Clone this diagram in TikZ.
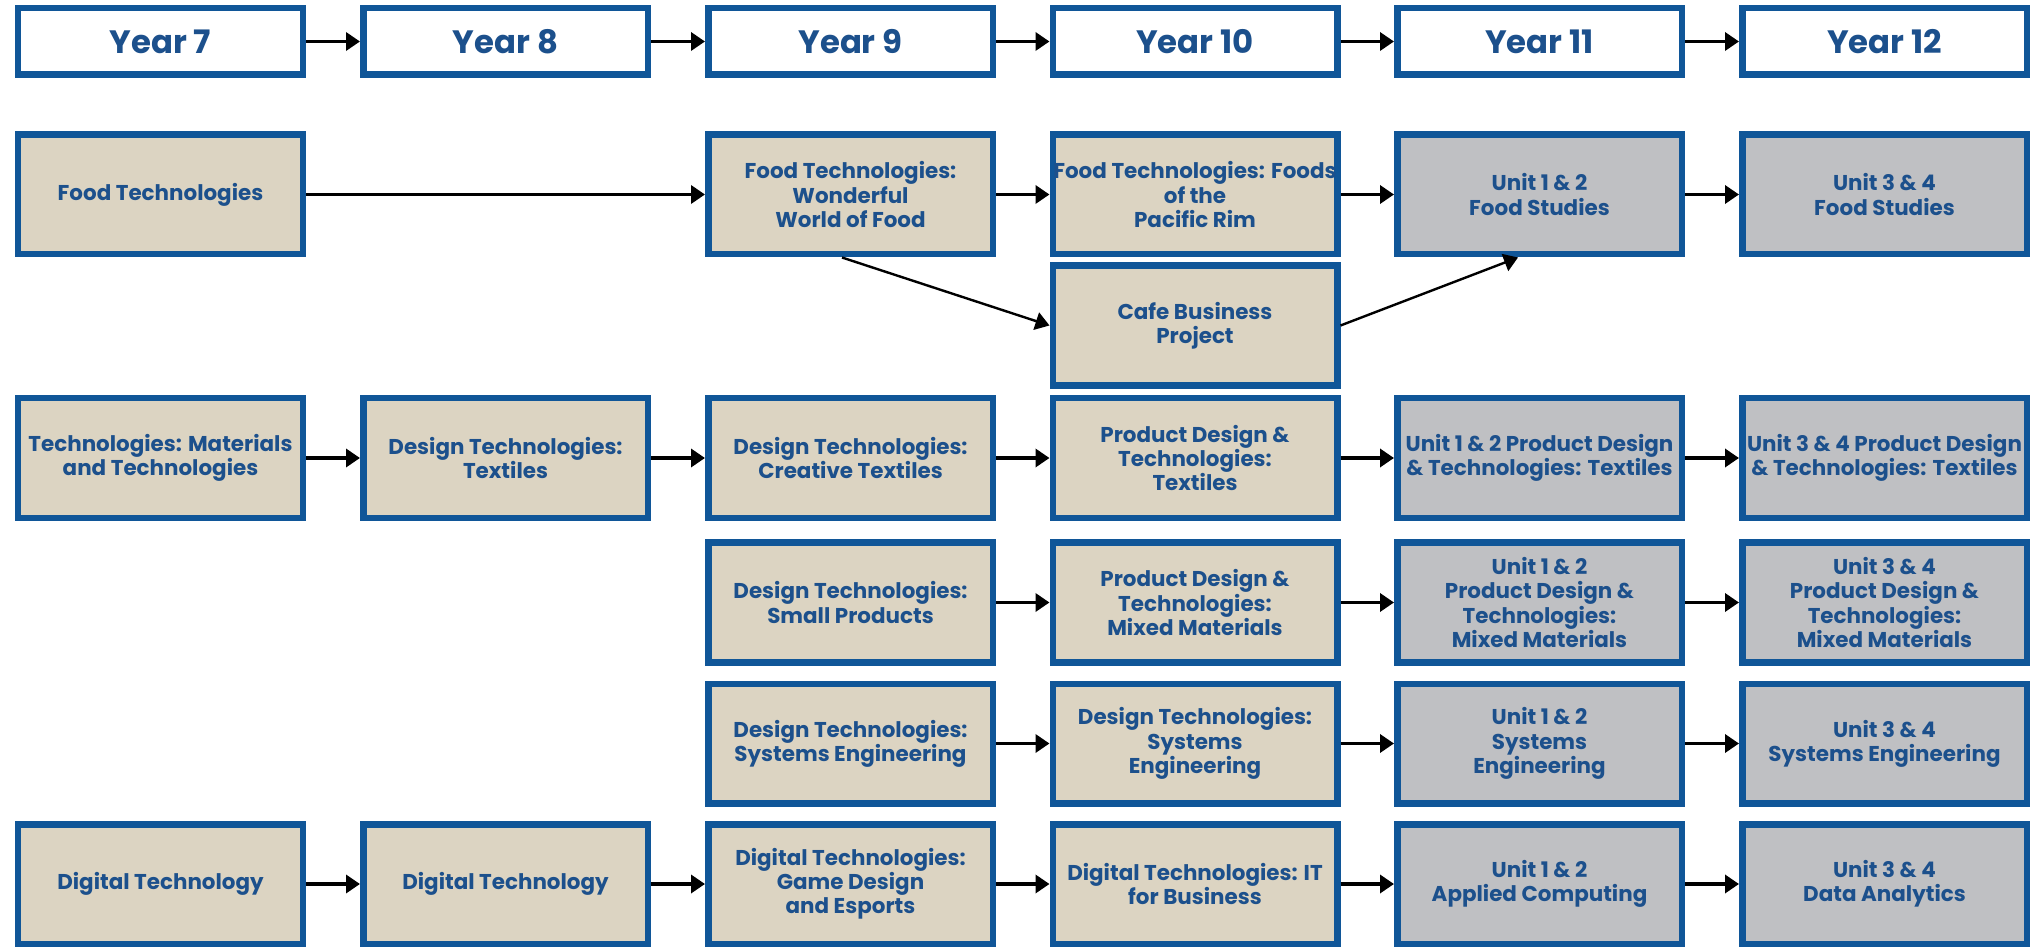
\documentclass[tikz,border=0pt]{standalone}
\usepackage{fontspec}
\setmainfont{Poppins}
\usetikzlibrary{arrows.meta}
\definecolor{pathblue}{RGB}{16,86,152}
\definecolor{textblue}{RGB}{28,80,140}
\definecolor{tanfill}{RGB}{220,212,194}
\definecolor{greyfill}{RGB}{191,192,195}
\begin{document}
\begin{tikzpicture}[
  yearbox/.style={draw=pathblue, line width=0.065cm, fill=white, minimum width=2.845cm, minimum height=0.665cm, inner sep=0pt, text=textblue, font=\fontsize{9.2}{11}\selectfont\bfseries},
  subjbox/.style={draw=pathblue, line width=0.065cm, fill=tanfill, minimum width=2.845cm, minimum height=1.195cm, inner sep=0pt, align=center, text=textblue, font=\fontsize{6.1}{6.9}\selectfont\bfseries},
  unitbox/.style={subjbox, fill=greyfill},
  flow/.style={-{Triangle[length=0.14cm,width=0.18cm]}, line width=0.035cm, black},
  slant/.style={flow, line width=0.024cm}]
                        % \clip (0,0) rectangle (20.37,-9.47);
                        \fill[white] (0,0) rectangle (20.37,-9.47);%
                        \useasboundingbox (0,0) rectangle (20.37,-9.47);%

                        % Marking year headers
                        \node[yearbox] (y7) at (1.605,-0.415) {Year 7};%
                        \node[yearbox] (y8) at (5.055,-0.415) {Year 8};%
                        \node[yearbox] (y9) at (8.505,-0.415) {Year 9};%
                        \node[yearbox] (y10) at (11.950,-0.415) {Year 10};%
                        \node[yearbox] (y11) at (15.395,-0.415) {Year 11};%
                        \node[yearbox] (y12) at (18.845,-0.415) {Year 12};%

                        % Marking food boxes
                        \node[subjbox] (food7) at (1.605,-1.945) {Food Technologies};%
                        \node[subjbox] (wonder9) at (8.505,-1.945) {Food Technologies:\\Wonderful\\World of Food};%
                        \node[subjbox] (pacific10) at (11.950,-1.945) {Food Technologies: Foods\\of the\\Pacific Rim};%
                        \node[unitbox] (food11) at (15.395,-1.945) {Unit 1 \& 2\\Food Studies};%
                        \node[unitbox] (food12) at (18.845,-1.945) {Unit 3 \& 4\\Food Studies};%
                        \node[subjbox] (cafe10) at (11.950,-3.255) {Cafe Business\\Project};%

                        % Marking textiles boxes
                        \node[subjbox] (mat7) at (1.605,-4.580) {Technologies: Materials\\and Technologies};%
                        \node[subjbox] (tex8) at (5.055,-4.580) {Design Technologies:\\Textiles};%
                        \node[subjbox] (tex9) at (8.505,-4.580) {Design Technologies:\\Creative Textiles};%
                        \node[subjbox] (tex10) at (11.950,-4.580) {Product Design \&\\Technologies:\\Textiles};%
                        \node[unitbox] (tex11) at (15.395,-4.580) {Unit 1 \& 2 Product Design\\\& Technologies: Textiles};%
                        \node[unitbox] (tex12) at (18.845,-4.580) {Unit 3 \& 4 Product Design\\\& Technologies: Textiles};%

                        % Marking small products boxes
                        \node[subjbox] (small9) at (8.505,-6.025) {Design Technologies:\\Small Products};%
                        \node[subjbox] (mixed10) at (11.950,-6.025) {Product Design \&\\Technologies:\\Mixed Materials};%
                        \node[unitbox] (mixed11) at (15.395,-6.025) {Unit 1 \& 2\\Product Design \&\\Technologies:\\Mixed Materials};%
                        \node[unitbox] (mixed12) at (18.845,-6.025) {Unit 3 \& 4\\Product Design \&\\Technologies:\\Mixed Materials};%

                        % Marking systems boxes
                        \node[subjbox] (sys9) at (8.505,-7.435) {Design Technologies:\\Systems Engineering};%
                        \node[subjbox] (sys10) at (11.950,-7.435) {Design Technologies:\\Systems\\Engineering};%
                        \node[unitbox] (sys11) at (15.395,-7.435) {Unit 1 \& 2\\Systems\\Engineering};%
                        \node[unitbox] (sys12) at (18.845,-7.435) {Unit 3 \& 4\\Systems Engineering};%

                        % Marking digital boxes
                        \node[subjbox] (dig7) at (1.605,-8.840) {Digital Technology};%
                        \node[subjbox] (dig8) at (5.055,-8.840) {Digital Technology};%
                        \node[subjbox] (game9) at (8.505,-8.840) {Digital Technologies:\\Game Design\\and Esports};%
                        \node[subjbox] (it10) at (11.950,-8.840) {Digital Technologies: IT\\for Business};%
                        \node[unitbox] (comp11) at (15.395,-8.840) {Unit 1 \& 2\\Applied Computing};%
                        \node[unitbox] (data12) at (18.845,-8.840) {Unit 3 \& 4\\Data Analytics};%

                        % Drawing arrows along the years
                        \draw[flow] (y7) -- (y8);%
                        \draw[flow] (y8) -- (y9);%
                        \draw[flow] (y9) -- (y10);%
                        \draw[flow] (y10) -- (y11);%
                        \draw[flow] (y11) -- (y12);%

                        % Drawing arrows of food
                        \draw[flow] (food7) -- (wonder9);%
                        \draw[flow] (wonder9) -- (pacific10);%
                        \draw[flow] (pacific10) -- (food11);%
                        \draw[flow] (food11) -- (food12);%
                        \draw[slant] ([xshift=-0.085cm]wonder9.south) -- (cafe10.west);%
                        \draw[slant] (cafe10.east) -- ([xshift=-0.215cm]food11.south);%

                        % Drawing arrows of textiles
                        \draw[flow] (mat7) -- (tex8);%
                        \draw[flow] (tex8) -- (tex9);%
                        \draw[flow] (tex9) -- (tex10);%
                        \draw[flow] (tex10) -- (tex11);%
                        \draw[flow] (tex11) -- (tex12);%

                        % Drawing arrows of small products
                        \draw[flow] (small9) -- (mixed10);%
                        \draw[flow] (mixed10) -- (mixed11);%
                        \draw[flow] (mixed11) -- (mixed12);%

                        % Drawing arrows of systems
                        \draw[flow] (sys9) -- (sys10);%
                        \draw[flow] (sys10) -- (sys11);%
                        \draw[flow] (sys11) -- (sys12);%

                        % Drawing arrows of digital
                        \draw[flow] (dig7) -- (dig8);%
                        \draw[flow] (dig8) -- (game9);%
                        \draw[flow] (game9) -- (it10);%
                        \draw[flow] (it10) -- (comp11);%
                        \draw[flow] (comp11) -- (data12);%
\end{tikzpicture}
\end{document}
